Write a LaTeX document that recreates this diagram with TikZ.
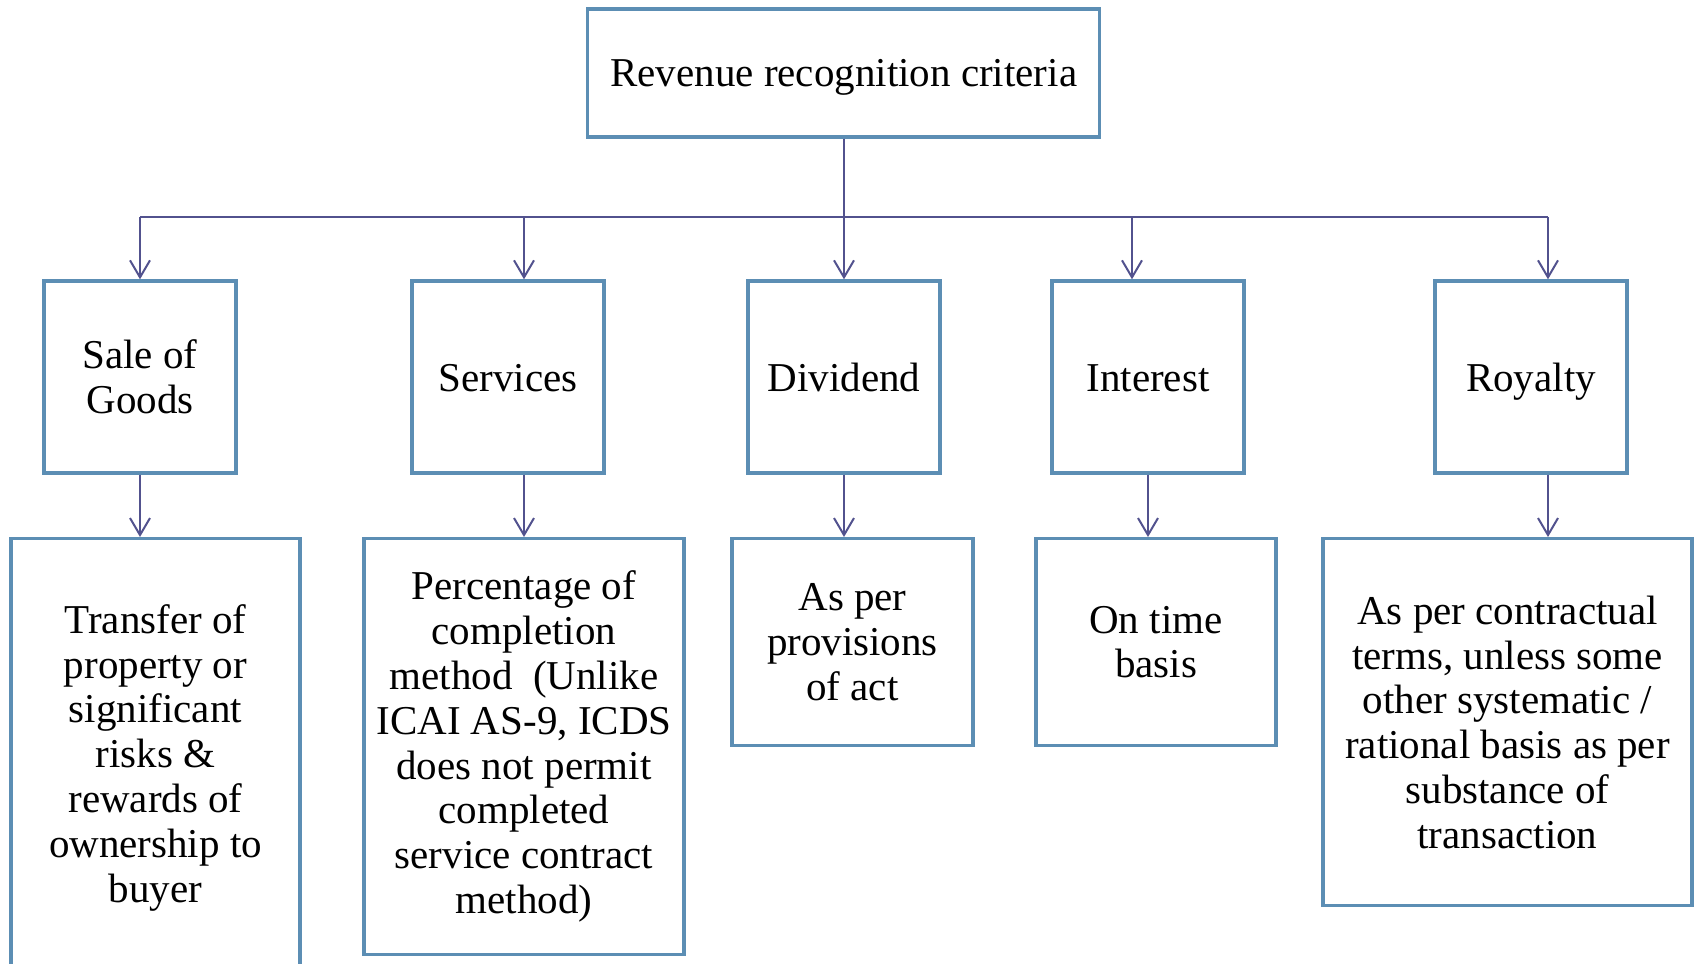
\documentclass[tikz,border=0pt]{standalone}
\usepackage{fontspec}
\setmainfont{Liberation Serif}
\usetikzlibrary{arrows.meta}
\definecolor{boxblue}{RGB}{92,142,180}
\definecolor{linkblue}{RGB}{82,82,142}

\begin{document}
\begin{tikzpicture}[x=0.5pt,y=-0.5pt,
  		every node/.style={font=\fontsize{20.5pt}{22.4pt}\selectfont,inner sep=2pt},
  		root/.style={rectangle,draw=boxblue,line width=1.7pt,minimum width=256pt,minimum height=64pt,
    		text height=15pt,text depth=1.5pt},
  		cat/.style={rectangle,draw=boxblue,line width=1.7pt,minimum width=96pt,minimum height=96pt},
  		head/.style={cat,text height=14.5pt,text depth=0.5pt},
  		leaf/.style={rectangle,draw=boxblue,line width=1.7pt,anchor=north,align=center},
  		link/.style={draw=linkblue,line width=1pt},
  		arrow/.style={link,-{Straight Barb[length=8.5pt,width=10pt]}}]
    		\useasboundingbox (0,0) rectangle (1694,964);
    		% Parent
      		\node[root] (root) at (843.75,73) {Revenue recognition criteria};
    		% Children
      		\node[cat,align=center] (sale) at (140,377) {Sale of\\Goods};
      		\node[head] (services) at (508,377) {Services};
      		\node[head] (dividend) at (844,377) {Dividend};
      		\node[head] (interest) at (1148,377) {Interest};
      		\node[head] (royalty) at (1531,377) {Royalty};
    		% Grandchildren
      		\node[leaf,minimum width=144.5pt,minimum height=219pt] (transfer) at (155.5,537)
			{Transfer of\\property or\\significant\\risks \&\\rewards of\\ownership to\\buyer};
      		\node[leaf,minimum width=160pt,minimum height=208pt] (completion) at (524,537)
			{Percentage of\\completion\\method~ (Unlike\\ICAI AS-9, ICDS\\does not permit\\completed\\service contract\\method)};
      		\node[leaf,minimum width=120.5pt,minimum height=103.5pt] (provisions) at (852.5,537)
			{As per\\provisions\\of act};
      		\node[leaf,minimum width=120pt,minimum height=103.5pt] (timebasis) at (1156,537)
			{On time\\basis};
      		\node[leaf,minimum width=184.5pt,minimum height=183.5pt] (contract) at (1507.5,537)
			{As per contractual\\terms, unless some\\other systematic /\\rational basis as per\\substance of\\transaction};
    		% Bus
      		\coordinate (d1) at (140,217);
      		\coordinate (d2) at (524,217);
      		\coordinate (d3) at (844,217);
      		\coordinate (d4) at (1132,217);
      		\coordinate (d5) at (1548,217);
      		\draw[link] (root.south) -- (root.south |- d3);
      		\draw[link] (d1) -- (d5);
      		\draw[arrow] (d1) -- (d1 |- sale.north);
      		\draw[arrow] (d2) -- (d2 |- services.north);
      		\draw[arrow] (d3) -- (d3 |- dividend.north);
      		\draw[arrow] (d4) -- (d4 |- interest.north);
      		\draw[arrow] (d5) -- (d5 |- royalty.north);
    		% Down to the rules
      		\draw[arrow] (sale.south) -- (sale.south |- transfer.north);
      		\draw[arrow] (services.south -| d2) -- (d2 |- completion.north);
      		\draw[arrow] (dividend.south) -- (dividend.south |- provisions.north);
      		\draw[arrow] (interest.south) -- (interest.south |- timebasis.north);
      		\draw[arrow] (royalty.south -| d5) -- (d5 |- contract.north);
	\end{tikzpicture}
\end{document}
